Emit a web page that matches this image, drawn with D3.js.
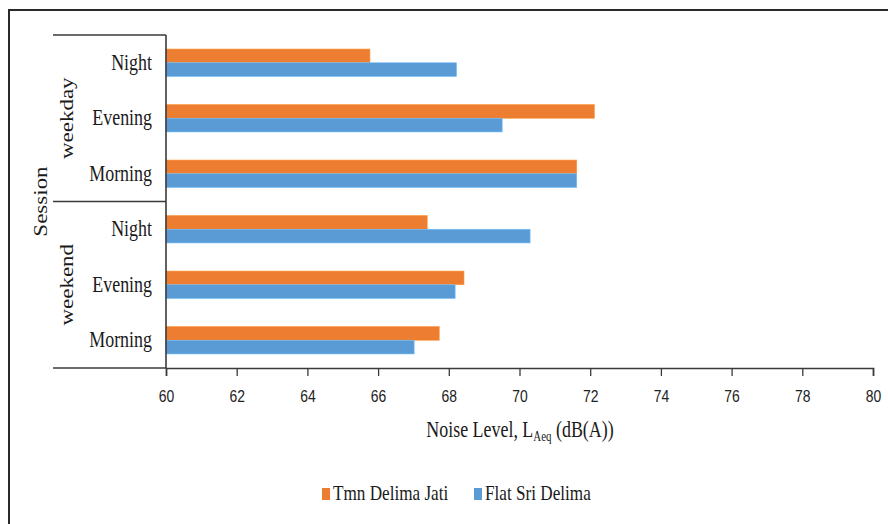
<!DOCTYPE html>
<html>
<head>
<meta charset="utf-8">
<script src="https://cdn.jsdelivr.net/npm/d3@7/dist/d3.min.js"></script>
<style>
  html, body { margin: 0; padding: 0; background: #fff; }
  svg { display: block; }
</style>
</head>
<body>
<svg id="chart" width="888" height="524"></svg>
<script>
// ---- data ----
const groupNames = ["weekday", "weekend"];
const sessions = ["Night", "Evening", "Morning", "Night", "Evening", "Morning"];
const sessionGroups = ["weekday", "weekday", "weekday", "weekend", "weekend", "weekend"];
const seriesNames = ["Tmn Delima Jati", "Flat Sri Delima"];
const tmnValues = [65.77, 72.12, 71.62, 67.39, 68.43, 67.73];
const flatValues = [68.22, 69.51, 71.62, 70.30, 68.18, 67.02];
const xTickValues = [60, 62, 64, 66, 68, 70, 72, 74, 76, 78, 80];
const seriesColors = ["#ED7D31", "#5B9BD5"];

// ---- layout ----
const SX = 0.78; // horizontal squeeze of text glyphs
const axisColor = "#3a3a3a";
const serif = "'Liberation Serif', 'Times New Roman', serif";
const sans = "'Liberation Sans', Arial, sans-serif";

const svg = d3.select("#chart");

// outer frame
svg.append("rect")
  .attr("x", 9).attr("y", 10).attr("width", 900).attr("height", 540)
  .attr("fill", "#fff").attr("stroke", "#2a2a2a").attr("stroke-width", 2);

const x = d3.scaleLinear().domain([60, 80]).range([166, 873]);
const y = d3.scaleBand().domain(d3.range(sessions.length)).range([35, 368])
  .paddingInner(0.506).paddingOuter(0.253);
const ySub = d3.scaleBand().domain(seriesNames).range([0, y.bandwidth()]);

const rows = sessions.map((s, i) => ({ i, session: s, group: sessionGroups[i], values: [tmnValues[i], flatValues[i]] }));

function txt(g, px, py, str, size, family, anchor, rotate) {
  return g.append("text")
    .attr("transform", `translate(${px},${py}) scale(${SX},1)` + (rotate ? ` rotate(${rotate})` : ""))
    .attr("text-anchor", anchor || "start")
    .attr("font-family", family)
    .attr("font-size", size)
    .attr("fill", "#1a1a1a")
    .text(str);
}

// bars
const barG = svg.append("g");
rows.forEach(r => {
  barG.selectAll(null).data(seriesNames.map((n, k) => ({ name: n, v: r.values[k], k })))
    .join("rect")
    .attr("x", x(60))
    .attr("y", d => y(r.i) + ySub(d.name))
    .attr("width", d => x(d.v) - x(60))
    .attr("height", ySub.bandwidth())
    .attr("fill", d => seriesColors[d.k])
    .attr("stroke", d => d3.color(seriesColors[d.k]).brighter(0.6))
    .attr("stroke-width", 0.6);
});

// x axis
const xAxis = svg.append("g")
  .attr("transform", `translate(0,${y.range()[1]})`)
  .call(d3.axisBottom(x).tickValues(xTickValues).tickSize(8).tickSizeOuter(8).tickFormat(d3.format("d")));
xAxis.select(".domain").attr("stroke", axisColor).attr("stroke-width", 1.6);
xAxis.selectAll(".tick line").attr("stroke", axisColor).attr("stroke-width", 1.3);
xAxis.selectAll(".tick text")
  .attr("y", 34).attr("dy", 0)
  .attr("transform", `scale(${SX + 0.04},1)`)
  .attr("font-family", sans).attr("font-size", 17).attr("fill", "#222");

// category axis lines
const yTop = y.range()[0], yBot = y.range()[1];
const groupBoundary = y(3) - y.step() * y.paddingInner() / 2;
const catG = svg.append("g").attr("stroke", axisColor).attr("stroke-width", 1.6);
catG.append("line").attr("x1", x(60)).attr("x2", x(60)).attr("y1", yTop).attr("y2", yBot);
[yTop, groupBoundary, yBot].forEach(yy => {
  catG.append("line").attr("x1", 53).attr("x2", x(60)).attr("y1", yy).attr("y2", yy);
});

// category labels
const labG = svg.append("g");
rows.forEach(r => {
  txt(labG, 152, y(r.i) + y.bandwidth() / 2 + 7, r.session, 23, serif, "end");
});

// group labels (rotated)
groupNames.forEach((gname, gi) => {
  const idx = sessionGroups.map((g, i) => g === gname ? i : -1).filter(i => i >= 0);
  const top = gi === 0 ? yTop : groupBoundary;
  const bot = gi === 0 ? groupBoundary : yBot;
  txt(labG, 73, (top + bot) / 2, gname, 23, serif, "middle", -90);
});

// axis titles
txt(labG, 47, (yTop + yBot) / 2 + 0, "Session", 23, serif, "middle", -90);

const title = labG.append("text")
  .attr("transform", `translate(520,437) scale(${SX},1)`)
  .attr("text-anchor", "middle")
  .attr("font-family", serif).attr("font-size", 23).attr("fill", "#1a1a1a");
title.append("tspan").text("Noise Level, L");
title.append("tspan").attr("font-size", 14).attr("dy", 4).text("Aeq");
title.append("tspan").attr("dy", -4).text(" (dB(A))");

// legend
const legG = svg.append("g");
const legendX = [322, 474];
seriesNames.forEach((n, k) => {
  legG.append("rect").attr("x", legendX[k]).attr("y", 488).attr("width", 8).attr("height", 12)
    .attr("fill", seriesColors[k]);
  txt(legG, legendX[k] + 11, 500, n, 22, serif, "start");
});
</script>
</body>
</html>
